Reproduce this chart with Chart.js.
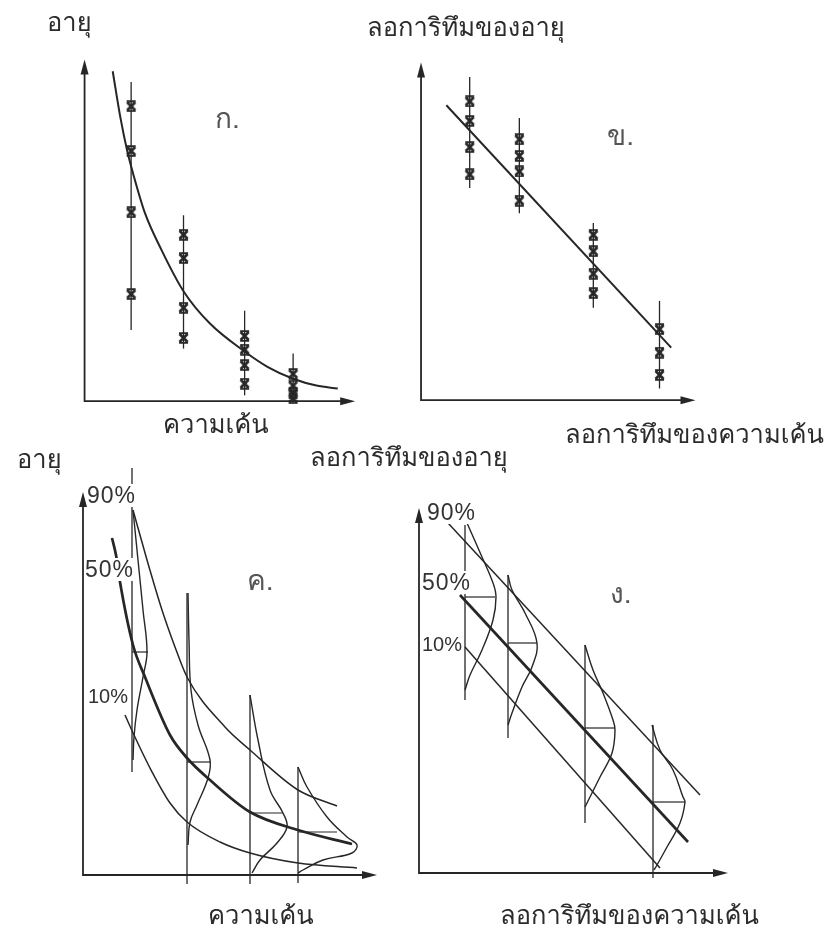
<!DOCTYPE html>
<html lang="th">
<head>
<meta charset="utf-8">
<title>อายุ กับ ความเค้น</title>
<script src="https://cdn.jsdelivr.net/npm/chart.js@4.4.1/dist/chart.umd.min.js"></script>
<style>
  body { margin: 0; background: #fff; }
  #page { position: relative; width: 830px; height: 936px; overflow: hidden; }
  #page canvas { position: absolute; }
  .t { position: absolute; white-space: nowrap; line-height: 1; color: #2b2b2b;
       font-family: "Loma", "Garuda", "Noto Sans Thai Looped", "Noto Sans Thai", "DejaVu Sans", sans-serif; font-size: 25.5px; }
  .n { color: #555; font-size: 28px; }
  .pc { position: absolute; white-space: nowrap; line-height: 1; color: #333; background: #fff;
        font-family: "Liberation Sans", Arial, sans-serif; font-size: 23px; letter-spacing: 1px; }
  .pc.s { font-size: 20px; letter-spacing: 0; }
</style>
</head>
<body>
<div id="page">
  <canvas id="chartA"></canvas>
  <canvas id="chartB"></canvas>
  <canvas id="chartC"></canvas>
  <canvas id="chartD"></canvas>

  <div class="t" style="left:47px;top:10px">อายุ</div>
  <div class="t" style="left:163px;top:412px">ความเค้น</div>
  <div class="t n" style="left:215px;top:104px">ก.</div>

  <div class="t" style="left:367px;top:15px">ลอการิทึมของอายุ</div>
  <div class="t" style="left:565px;top:422px">ลอการิทึมของความเค้น</div>
  <div class="t n" style="left:607px;top:121px">ข.</div>

  <div class="t" style="left:17px;top:447px">อายุ</div>
  <div class="t" style="left:208px;top:903px">ความเค้น</div>
  <div class="t n" style="left:247px;top:566px">ค.</div>

  <div class="t" style="left:310px;top:445px">ลอการิทึมของอายุ</div>
  <div class="t" style="left:500px;top:903px">ลอการิทึมของความเค้น</div>
  <div class="t n" style="left:610px;top:579px">ง.</div>

  <div class="pc" style="left:87px;top:484px">90%</div>
  <div class="pc" style="left:85px;top:558px">50%</div>
  <div class="pc s" style="left:88px;top:686px">10%</div>
  <div class="pc" style="left:427px;top:501px">90%</div>
  <div class="pc" style="left:422px;top:571px">50%</div>
  <div class="pc s" style="left:422px;top:634px">10%</div>
</div>
<script>
// units: 1 unit = 10 px measured from each panel's axis origin

// ก. อายุ - ความเค้น (scatter + fitted curve)
const stressA = [4.8, 10.2, 16.5, 21.5];
const lifeA = [
  [30.3, 25.7, 19.4, 11.0],
  [17.1, 14.7, 9.6, 6.5],
  [6.7, 5.3, 3.7, 1.8],
  [2.8, 1.6, 0.8, 0.3]
];
const spanA = [[7.3, 32.8], [5.4, 19.1], [0.6, 9.3], [-0.2, 4.9]];
const fitAx = [2.9, 3.7, 4.4, 5.0, 6.2, 7.9, 10.2, 12.9, 16.5, 18.9, 21.5, 23.9, 26.1];
const fitAy = [33.9, 29.1, 25.7, 23.4, 19.4, 15.6, 11.3, 8.0, 5.1, 3.5, 2.3, 1.6, 1.3];

// ข. log-log, straight line
const logStressB = [5.0, 10.1, 17.7, 24.5];
const logLifeB = [
  [30.7, 28.7, 26.0, 23.2],
  [26.8, 25.1, 23.5, 20.5],
  [17.0, 15.3, 13.0, 11.0],
  [7.3, 4.9, 2.6]
];
const spanB = [[21.8, 33.2], [19.2, 29.0], [9.5, 18.2], [1.2, 10.2]];
const fitBx = [2.6, 25.7];
const fitBy = [30.3, 5.4];

// ค. percentile curves with skewed spreads
const stressC = [4.9, 10.4, 16.7, 21.5];
const spanC = [[10.3, 40.7], [-0.9, 28.2], [-0.9, 18.0], [-0.8, 10.8]];
const p90Cx = [5.0, 6.4, 7.9, 9.2, 10.4, 14.2, 16.7, 21.5, 25.4];
const p90Cy = [36.5, 31.5, 26.5, 22.8, 19.8, 14.8, 12.5, 8.5, 6.9];
const p50Cx = [2.9, 3.3, 3.7, 5.0, 6.2, 8.7, 10.4, 12.7, 16.7, 21.5, 26.9];
const p50Cy = [33.7, 32.0, 29.3, 23.0, 19.8, 14.0, 11.7, 9.5, 6.3, 4.5, 3.1];
const p10Cx = [4.2, 5.1, 6.7, 8.7, 10.4, 13.7, 16.7, 21.5, 27.4];
const p10Cy = [16.0, 14.0, 10.7, 7.2, 5.3, 3.3, 2.2, 1.2, 0.7];
const medianC = [22.3, 11.3, 6.2, 4.3];
const medTipC = [6.5, 12.7, 20.0, 25.4];
const spreadCx = [
  [5.0, 5.5, 6.0, 6.4, 6.0, 5.4, 5.1, 5.0],
  [10.5, 10.6, 10.8, 11.5, 12.7, 12.5, 11.4, 10.7, 10.5],
  [16.7, 17.5, 18.7, 20.0, 20.4, 19.4, 17.7, 16.9],
  [21.5, 22.4, 24.4, 26.4, 27.4, 26.9, 24.0, 22.0, 21.5]
];
const spreadCy = [
  [36.5, 31.5, 26.5, 22.3, 19.8, 16.5, 13.8, 11.5],
  [28.2, 23.5, 18.5, 15.0, 11.5, 9.7, 7.0, 5.3, 3.0],
  [18.0, 13.5, 8.5, 6.2, 4.8, 3.2, 1.5, 0.2],
  [10.8, 8.8, 5.8, 3.8, 3.0, 2.2, 1.5, 0.5, 0.2]
];

// ง. log-log, parallel percentile lines with normal spreads
const logStressD = [4.6, 8.9, 16.6, 23.4];
const spanD = [[17.3, 34.8], [13.5, 29.8], [5.0, 22.8], [-0.5, 14.8]];
const p90Dx = [2.9, 28.1];
const p90Dy = [35.0, 7.8];
const p50Dx = [4.1, 26.9];
const p50Dy = [27.8, 3.1];
const p10Dx = [4.6, 24.1];
const p10Dy = [22.6, 0.5];
const medianD = [27.6, 23.0, 14.5, 7.1];
const medTipD = [7.6, 11.8, 19.6, 26.6];
const spreadDx = [
  [4.8, 6.3, 7.4, 7.7, 7.4, 6.3, 5.1, 4.6],
  [8.9, 9.3, 10.6, 11.8, 11.3, 10.3, 9.3, 8.9],
  [16.6, 17.4, 18.4, 19.4, 19.6, 19.3, 18.1, 17.1, 16.6],
  [23.3, 24.1, 25.4, 26.4, 26.6, 26.1, 24.8, 23.8, 23.5]
];
const spreadDy = [
  [35.0, 31.6, 29.0, 27.6, 25.3, 22.3, 19.8, 18.3],
  [29.8, 28.3, 26.0, 23.0, 20.6, 18.6, 16.0, 14.8],
  [22.8, 20.3, 18.0, 15.3, 14.3, 12.0, 9.6, 7.6, 6.6],
  [14.8, 12.3, 10.3, 7.6, 7.1, 5.0, 2.6, 0.8, 0.3]
];

const ink = '#262626';

// hourglass-like "x" used for the test points
function makeMark() {
  const c = document.createElement('canvas');
  c.width = 13; c.height = 12;
  const g = c.getContext('2d');
  g.strokeStyle = ink;
  g.lineWidth = 2.8;
  g.beginPath();
  g.moveTo(2.5, 2); g.lineTo(10.5, 10);
  g.moveTo(10.5, 2); g.lineTo(2.5, 10);
  g.stroke();
  g.lineWidth = 1.8;
  g.beginPath();
  g.moveTo(2, 1.2); g.lineTo(11, 1.2);
  g.moveTo(2, 10.8); g.lineTo(11, 10.8);
  g.stroke();
  return c;
}
const mark = makeMark();

function line(xs, ys, width, tension) {
  return {
    data: xs.map((x, i) => ({ x: x, y: ys[i] })),
    showLine: true, borderColor: ink, borderWidth: width,
    pointRadius: 0, tension: tension || 0, clip: false
  };
}
function curve(xs, ys, width) {
  const d = line(xs, ys, width);
  d.cubicInterpolationMode = 'monotone';
  return d;
}
function verticals(xs, spans) {
  return xs.map((x, i) => line([x, x], spans[i], 1.3));
}
function marks(xs, ys) {
  const pts = [];
  xs.forEach((x, i) => ys[i].forEach(y => pts.push({ x: x, y: y })));
  return { data: pts, pointStyle: mark, pointRadius: 5, showLine: false, clip: false };
}
function spreads(xs, ys) {
  return xs.map((sx, i) => line(sx, ys[i], 1.4, 0.4));
}
function medians(xs, ys, tips) {
  return xs.map((x, i) => line([x, tips[i]], [ys[i], ys[i]], 1.2));
}

const axisArrows = {
  id: 'axisArrows',
  beforeDatasetsDraw(chart, args, opts) {
    const ctx = chart.ctx, sx = chart.scales.x, sy = chart.scales.y;
    const x0 = sx.getPixelForValue(0), y0 = sy.getPixelForValue(0);
    const x1 = sx.getPixelForValue(opts.xEnd), y1 = sy.getPixelForValue(opts.yEnd);
    ctx.save();
    ctx.strokeStyle = ink;
    ctx.fillStyle = ink;
    ctx.lineWidth = 1.8;
    ctx.beginPath();
    ctx.moveTo(x0, y1 + 8);
    ctx.lineTo(x0, y0);
    ctx.lineTo(x1 - 8, y0);
    ctx.stroke();
    ctx.beginPath();
    ctx.moveTo(x0, y1); ctx.lineTo(x0 - 4, y1 + 15); ctx.lineTo(x0 + 4, y1 + 15); ctx.closePath();
    ctx.fill();
    ctx.beginPath();
    ctx.moveTo(x1, y0); ctx.lineTo(x1 - 15, y0 - 4); ctx.lineTo(x1 - 15, y0 + 4); ctx.closePath();
    ctx.fill();
    ctx.restore();
  }
};

// canvas placement (page px) and axis origin / arrow ends
function panel(id, left, top, w, h, ox, oy, xEnd, yEnd, datasets) {
  const cv = document.getElementById(id);
  cv.width = w; cv.height = h;
  cv.style.left = left + 'px'; cv.style.top = top + 'px';
  new Chart(cv, {
    type: 'scatter',
    data: { datasets: datasets },
    options: {
      responsive: false,
      animation: false,
      events: [],
      layout: { padding: 0 },
      plugins: {
        legend: { display: false },
        tooltip: { enabled: false },
        axisArrows: { xEnd: xEnd, yEnd: yEnd }
      },
      scales: {
        x: { type: 'linear', display: false, min: (left - ox) / 10, max: (left + w - ox) / 10 },
        y: { type: 'linear', display: false, min: (oy - top - h) / 10, max: (oy - top) / 10 }
      }
    },
    plugins: [axisArrows]
  });
}

panel('chartA', 0, 0, 400, 450, 81, 406, 27.9, 35.1, [
  marks(stressA, lifeA),
  curve(fitAx, fitAy, 2),
  ...verticals(stressA, spanA)
]);

panel('chartB', 380, 0, 450, 450, 416, 405, 28.2, 34.7, [
  marks(logStressB, logLifeB),
  line(fitBx, fitBy, 2),
  ...verticals(logStressB, spanB)
]);

panel('chartC', 0, 450, 400, 486, 83, 875, 29.4, 38.3, [
  curve(p50Cx, p50Cy, 2.7),
  curve(p90Cx, p90Cy, 1.5),
  curve(p10Cx, p10Cy, 1.5),
  ...spreads(spreadCx, spreadCy),
  ...medians(stressC, medianC, medTipC),
  ...verticals(stressC, spanC)
]);

panel('chartD', 380, 450, 450, 486, 419, 873, 30.9, 36.5, [
  line(p50Dx, p50Dy, 2.7),
  line(p90Dx, p90Dy, 1.5),
  line(p10Dx, p10Dy, 1.5),
  ...spreads(spreadDx, spreadDy),
  ...medians(logStressD, medianD, medTipD),
  ...verticals(logStressD, spanD)
]);
</script>
</body>
</html>
